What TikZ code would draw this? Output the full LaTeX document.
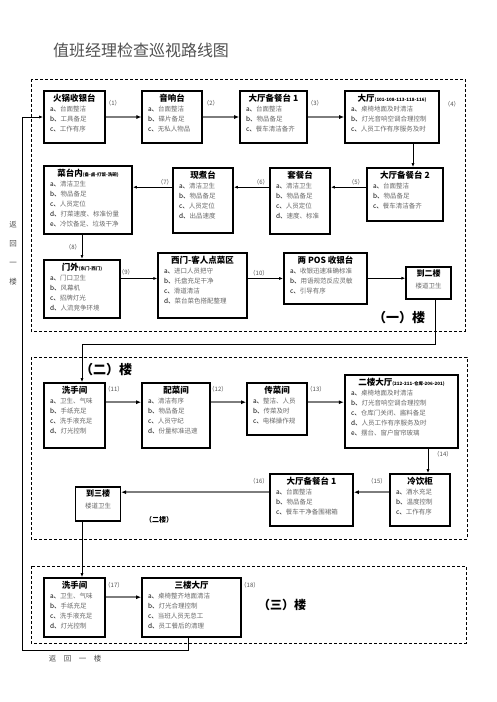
\documentclass[tikz,border=0pt]{standalone}
\usepackage{fontspec}
\setmainfont{Noto Sans CJK SC}
\usetikzlibrary{arrows.meta}

\definecolor{itemgray}{RGB}{105,105,105}
\definecolor{flowgray}{RGB}{125,125,125}
\definecolor{titlegray}{RGB}{80,80,80}

% one line of a check list
\newcommand\itm[2]{#1、\textcolor{itemgray}{#2}}
% text of a station box: width, height, name, list
\newcommand\roomtext[4]{\parbox[c][#2][t]{#1}{\vspace*{3.5pt}\centering
  {\fontsize{8.5}{11}\selectfont\bfseries #3}\par
  \raggedright\leftskip=6pt\fontsize{6.5}{10}\selectfont #4\par}}
\newcommand\stairtext[2]{\parbox[c][#1][t]{45pt}{\vspace*{3pt}\centering
  {\fontsize{8}{11}\selectfont\bfseries #2}\par
  {\fontsize{6.5}{10}\selectfont\textcolor{itemgray}{楼道卫生}}\par}}
\newcommand\subnote[1]{{\fontsize{4.5}{5}\selectfont #1}}

\begin{document}
\begin{tikzpicture}[x=1pt,y=-1pt,
    room/.style={draw, line width=1.6pt, inner sep=0pt},
    roomthin/.style={draw, line width=1.1pt, inner sep=0pt},
    stepno/.style={font=\fontsize{6}{7}\selectfont, text=titlegray, inner sep=0pt},
    floorname/.style={font=\fontsize{13}{15}\selectfont\bfseries, inner sep=0pt},
    floorframe/.style={line width=0.8pt, dash pattern=on 3pt off 2pt},
    link/.style={line width=0.8pt, -{Latex[length=4pt,width=3pt]}},
    flow/.style={line width=2pt, flowgray, -{Latex[length=5pt,width=4pt,black]}},
    backline/.style={line width=0.8pt, -{Latex[length=4pt,width=3pt]}}]

  \useasboundingbox (0,0) rectangle (496,702);

  \node[font=\fontsize{16}{18}\selectfont, text=titlegray] (title) at (141,50) {值班经理检查巡视路线图};

  % floor frames
  \draw[floorframe] (31,79) rectangle (465,331);
  \draw[floorframe] (31,357) rectangle (467,539);
  \draw[floorframe] (31,566) rectangle (466,643);

  % first floor
  \node[room] (b1) at (74.5,117) {\roomtext{61pt}{52pt}{火锅收银台}{\itm{a}{台面整洁}\\\itm{b}{工具备足}\\\itm{c}{工作有序}}};
  \node[roomthin] (b2) at (172,117) {\roomtext{60pt}{52pt}{音响台}{\itm{a}{台面整洁}\\\itm{b}{碟片备足}\\\itm{c}{无私人物品}}};
  \node[room] (b3) at (273.5,117) {\roomtext{67pt}{52pt}{大厅备餐台 1}{\itm{a}{台面整洁}\\\itm{b}{物品备足}\\\itm{c}{餐车清洁备齐}}};
  \node[room] (b4) at (392,117) {\roomtext{94pt}{52pt}{大厅\subnote{(101-108-113-118-116)}}{\itm{a}{桌椅地面及时清洁}\\\itm{b}{灯光音响空调合理控制}\\\itm{c}{人员工作有序服务及时}}};
  \node[room] (b5) at (405,194.5) {\roomtext{76pt}{53pt}{大厅备餐台 2}{\itm{a}{台面整洁}\\\itm{b}{物品备足}\\\itm{c}{餐车清洁备齐}}};
  \node[room] (b6) at (300,201) {\roomtext{60pt}{66pt}{套餐台}{\itm{a}{清洁卫生}\\\itm{b}{物品备足}\\\itm{c}{人员定位}\\\itm{d}{速度、标准}}};
  \node[room] (b7) at (203,200.5) {\roomtext{60pt}{65pt}{现煮台}{\itm{a}{清洁卫生}\\\itm{b}{物品备足}\\\itm{c}{人员定位}\\\itm{d}{出品速度}}};
  \node[room] (b8) at (88,200) {\roomtext{88pt}{68pt}{菜台内\subnote{(备-卤-打饭-洗碗)}}{\itm{a}{清洁卫生}\\\itm{b}{物品备足}\\\itm{c}{人员定位}\\\itm{d}{打菜速度、标准份量}\\\itm{e}{冷饮备足、垃圾干净}}};
  \node[room, line width=2pt] (b9) at (82,289) {\roomtext{76pt}{58pt}{门外\subnote{(东门-西门)}}{\itm{a}{门口卫生}\\\itm{b}{风幕机}\\\itm{c}{招牌灯光}\\\itm{d}{人流竞争环境}}};
  \node[roomthin] (b10) at (202.5,285.5) {\roomtext{89pt}{65pt}{西门-客人点菜区}{\itm{a}{进口人员把守}\\\itm{b}{托盘充足干净}\\\itm{c}{滑道清洁}\\\itm{d}{菜台菜色搭配整理}}};
  \node[room] (b11) at (325.5,278.5) {\roomtext{83pt}{51pt}{两 POS 收银台}{\itm{a}{收银迅速准确标准}\\\itm{b}{用语规范反应灵敏}\\\itm{c}{引导有序}}};
  \node[roomthin] (b12) at (428.5,283) {\stairtext{32pt}{到二楼}};

  % second floor
  \node[room] (c1) at (74.5,415.5) {\roomtext{61pt}{65pt}{洗手间}{\itm{a}{卫生、气味}\\\itm{b}{手纸充足}\\\itm{c}{洗手液充足}\\\itm{d}{灯光控制}}};
  \node[room] (c2) at (176,415.5) {\roomtext{68pt}{65pt}{配菜间}{\itm{a}{清洁有序}\\\itm{b}{物品备足}\\\itm{c}{人员守纪}\\\itm{d}{份量标准迅速}}};
  \node[room] (c3) at (277,409) {\roomtext{60pt}{52pt}{传菜间}{\itm{a}{整洁、人员}\\\itm{b}{传菜及时}\\\itm{c}{电梯操作规}}};
  \node[room, line width=2.4pt] (c4) at (401.5,411.5) {\roomtext{113pt}{73pt}{二楼大厅\subnote{(212-211-仓库-206-201)}}{\itm{a}{桌椅地面及时清洁}\\\itm{b}{灯光音响空调合理控制}\\\itm{c}{仓库门关闭、酱料备足}\\\itm{d}{人员工作有序服务及时}\\\itm{e}{摆台、窗户窗帘玻璃}}};
  \node[room] (c5) at (420,500) {\roomtext{60pt}{52pt}{冷饮柜}{\itm{a}{酒水充足}\\\itm{b}{温度控制}\\\itm{c}{工作有序}}};
  \node[room] (c6) at (311.5,500) {\roomtext{83pt}{52pt}{大厅备餐台 1}{\itm{a}{台面整洁}\\\itm{b}{物品备足}\\\itm{c}{餐车干净备围裙箱}}};
  \node[roomthin] (c7) at (98,504) {\stairtext{34pt}{到三楼}};

  % third floor
  \node[room] (d1) at (74.5,607.5) {\roomtext{61pt}{59pt}{洗手间}{\itm{a}{卫生、气味}\\\itm{b}{手纸充足}\\\itm{c}{洗手液充足}\\\itm{d}{灯光控制}}};
  \node[room] (d2) at (191.5,607.5) {\roomtext{99pt}{59pt}{三楼大厅}{\itm{a}{桌椅整齐地面清洁}\\\itm{b}{灯光合理控制}\\\itm{c}{当班人员无怠工}\\\itm{d}{员工餐后的清理}}};

  % step numbers
  \node[stepno] (s1) at (113,103) {（1）};
  \node[stepno] (s2) at (211,103) {（2）};
  \node[stepno] (s3) at (315,103) {（3）};
  \node[stepno] (s4) at (452,104) {（4）};
  \node[stepno] (s5) at (356,182) {（5）};
  \node[stepno] (s6) at (261,182) {（6）};
  \node[stepno] (s7) at (165,182) {（7）};
  \node[stepno] (s8) at (73,247) {（8）};
  \node[stepno] (s9) at (126,272) {（9）};
  \node[stepno] (s10) at (259,273) {（10）};
  \node[stepno] (s11) at (114,389) {（11）};
  \node[stepno] (s12) at (218,389) {（12）};
  \node[stepno] (s13) at (316,389) {（13）};
  \node[stepno] (s14) at (443,454) {（14）};
  \node[stepno] (s15) at (377,481) {（15）};
  \node[stepno] (s16) at (259,481) {（16）};
  \node[stepno] (s17) at (114,585) {（17）};
  \node[stepno] (s18) at (250,585) {（18）};

  % floor names
  \node[floorname] (floor1) at (399,318) {（一）楼};
  \node[floorname] (floor2) at (106,370) {（二）楼};
  \node[font=\fontsize{7}{8}\selectfont\bfseries, inner sep=0pt] (floor2b) at (159,520) {（二楼）};
  \node[floorname, font=\fontsize{12}{14}\selectfont\bfseries] (floor3) at (282,605) {（三）楼};

  \node[font=\fontsize{7.5}{19}\selectfont, text=titlegray, align=center, inner sep=0pt] (backside) at (13,253) {返\\回\\一\\楼};
  \node[font=\fontsize{7.5}{9}\selectfont, text=titlegray, inner sep=0pt] (backfoot) at (75,659) {返\quad 回\quad 一\quad 楼};

  \coordinate (entry) at (22,117);
  \coordinate (back) at (22,650);
  \coordinate (turn) at (82,344);

  % route
  \draw[backline] ([xshift=-3.5pt]d2.south) |- (back) -- (entry) -- (b1);
  \draw[flow] (b1) -- (b2);
  \draw[flow] (b2) -- (b3);
  \draw[flow] (b3) -- (b4);
  \draw[link] ([xshift=21pt]b4.south) -- ([xshift=21pt]b4.south |- b5.north);
  \draw[link] ([yshift=-20pt]b5.north west) -- ([yshift=-20pt]b5.north west -| b6.east);
  \draw[link] ([yshift=-20pt]b6.north west) -- ([yshift=-20pt]b6.north west -| b7.east);
  \draw[link] ([yshift=-20pt]b7.north west) -- ([yshift=-20pt]b7.north west -| b8.east);
  \draw[link] (b9.north |- b8.south) -- (b9.north);
  \draw[link] ([yshift=-26pt]b10.north west -| b9.east) -- ([yshift=-26pt]b10.north west);
  \draw[link] ([yshift=-26pt]b10.north east) -- ([yshift=-26pt]b10.north east -| b11.west);
  \draw[link] ([yshift=-26pt]b11.north east) -- ([yshift=-26pt]b11.north east -| b12.west);
  \draw[link] ([xshift=7pt]b12.south) |- (turn) -- (turn |- c1.north);

  \draw[flow] ([yshift=-20pt]c1.north east) -- ([yshift=-20pt]c1.north east -| c2.west);
  \draw[flow] ([yshift=-20pt]c2.north east) -- ([yshift=-20pt]c2.north east -| c3.west);
  \draw[flow] ([yshift=-20pt]c3.north east) -- ([yshift=-20pt]c3.north east -| c4.west);
  \draw[link] ([xshift=8pt]c5.north |- c4.south) -- ([xshift=8pt]c5.north);
  \draw[flow] ([yshift=-19pt]c5.north west) -- ([yshift=-19pt]c5.north west -| c6.east);
  \draw[flow] ([yshift=-19pt]c6.north west) -- ([yshift=-19pt]c6.north west -| c7.east);
  \draw[link] ([xshift=-16pt]c7.south) -- ([xshift=-16pt]c7.south |- d1.north);

  \draw[flow] ([yshift=-20pt]d1.north east) -- ([yshift=-20pt]d1.north east -| d2.west);

\end{tikzpicture}
\end{document}
